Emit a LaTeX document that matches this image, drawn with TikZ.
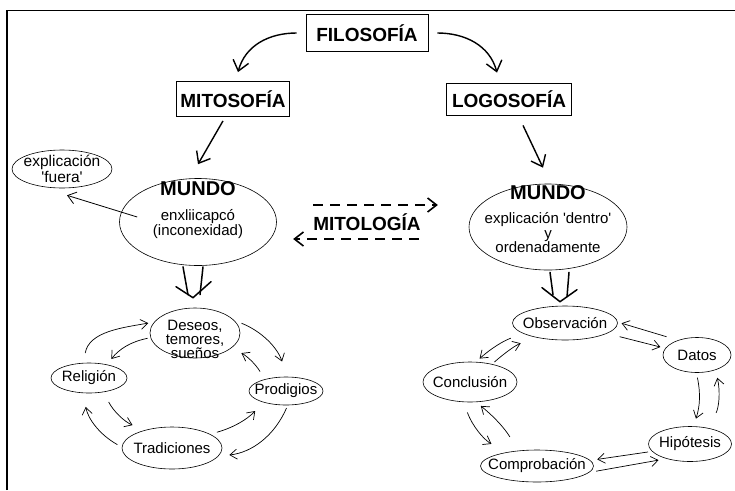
\documentclass[tikz,border=0pt]{standalone}
\usepackage{fontspec}
\setmainfont{Liberation Sans}
\usetikzlibrary{arrows.meta,shapes.geometric,positioning}

\tikzset{
  titlebox/.style={draw, line width=0.8pt, font=\fontsize{19}{22}\selectfont\bfseries,
    inner xsep=4pt, inner ysep=0pt, minimum height=35pt},
  oval/.style={draw, ellipse, line width=0.6pt, inner sep=0pt},
  bigfont/.style={font=\fontsize{20}{20}\selectfont\bfseries},
  mainarrow/.style={line width=1.4pt, -{Straight Barb[length=10pt,width=16pt]}},
  thinarrow/.style={line width=0.7pt, -{Straight Barb[length=7pt,width=10pt]}},
  dasharrow/.style={line width=1.6pt, dash pattern=on 10pt off 7pt,
    -{Straight Barb[length=9pt,width=14pt]}},
  dblline/.style={line width=1.5pt, line cap=round, line join=round}
}

\begin{document}
\begin{tikzpicture}[x=1pt,y=-1pt,
  every label/.style={font=\fontsize{15}{14.5}\selectfont, align=center, inner sep=0pt}]
\useasboundingbox (0,0) rectangle (735,490);
\draw[line width=1.2pt] (7,490) -- (7,10.5) -- (735,10.5);

% boxes
\node[titlebox, minimum width=122pt, minimum height=37pt] (fil) at (367,33) {FILOSOFÍA};
\node[titlebox, minimum width=112pt] (mito) at (233,99) {MITOSOFÍA};
\node[titlebox, minimum width=125pt, minimum height=32pt] (logo) at (509,99) {LOGOSOFÍA};

% the two worlds
\node[oval, minimum width=157pt, minimum height=87pt,
  label={[yshift=33pt,bigfont]center:MUNDO},
  label={[yshift=-2pt]center:enxliicapcó\\(inconexidad)}] (mundoL) at (198,222) {};
\node[oval, minimum width=158pt, minimum height=86pt,
  label={[yshift=34pt,bigfont]center:MUNDO},
  label={[yshift=-6pt]center:explicación \textquotesingle dentro\textquotesingle\\y\\ordenadamente}] (mundoR) at (548,227) {};
\node[oval, minimum width=100pt, minimum height=38pt,
  label={[font=\fontsize{15.5}{14}\selectfont]center:explicación\\\textquotesingle fuera\textquotesingle}] (fuera) at (62,169) {};
\node[font=\fontsize{19}{19}\selectfont\bfseries, inner sep=0pt] (mitol) at (367,222) {MITOLOGÍA};

% left cycle
\node[oval, minimum width=90pt, minimum height=50pt,
  label={[yshift=-6pt,font=\fontsize{15}{14}\selectfont]center:Deseos{,}\\temores{,}\\sueños}] (deseos) at (195,333) {};
\node[oval, minimum width=76pt, minimum height=30pt, label=center:Religión] (religion) at (89,378) {};
\node[oval, minimum width=74pt, minimum height=28pt, label=center:Prodigios] (prodigios) at (286,391) {};
\node[oval, minimum width=100pt, minimum height=42pt, label=center:Tradiciones] (tradiciones) at (172,448) {};

% right cycle
\node[oval, minimum width=105pt, minimum height=34pt, label=center:Observación] (observacion) at (565,323) {};
\node[oval, minimum width=68pt, minimum height=35pt, label=center:Datos] (datos) at (697,355) {};
\node[oval, minimum width=94pt, minimum height=40pt, label=center:Conclusión] (conclusion) at (470,382) {};
\node[oval, minimum width=83pt, minimum height=35pt, label=center:Hipótesis] (hipotesis) at (690,444) {};
\node[oval, minimum width=113pt, minimum height=32pt, label=center:Comprobación] (comprobacion) at (537,466) {};

% main arrows
\draw[mainarrow] ([xshift=-9pt]fil.west) to[out=180,in=75] ([xshift=5pt,yshift=9pt]mito.north);
\draw[mainarrow] ([xshift=9pt]fil.east) to[out=0,in=105] ([xshift=-12pt,yshift=10pt]logo.north);
\draw[mainarrow] ([xshift=-10pt,yshift=-4pt]mito.south) -- ([yshift=14pt]mundoL.north);
\draw[mainarrow] ([xshift=14pt,yshift=-10pt]logo.south) -- ([xshift=-5pt,yshift=16pt]mundoR.north);
\draw[line width=0.8pt, -{Straight Barb[length=8pt,width=12pt]}] ([xshift=18pt,yshift=5pt]mundoL.west) -- ([xshift=5pt,yshift=-7pt]fuera.south);

% mitologia
\draw[dasharrow] ([yshift=17pt]mitol.west) -- ([xshift=17pt,yshift=17pt]mitol.east);
\draw[dasharrow] ([xshift=-2pt,yshift=-17pt]mitol.east) -- ([xshift=-20pt,yshift=-17pt]mitol.west);

% double arrows
\draw[dblline] ([xshift=-15pt,yshift=-1pt]mundoL.south) -- ([xshift=-7pt,yshift=13pt]deseos.north);
\draw[dblline] ([xshift=5pt,yshift=-1pt]mundoL.south) -- ([xshift=5pt,yshift=13pt]deseos.north);
\draw[dblline] ([xshift=-19pt,yshift=21pt]deseos.north) -- ([xshift=-2pt,yshift=10pt]deseos.north) -- ([xshift=16pt,yshift=26pt]deseos.north);
\draw[dblline] ([xshift=2pt,yshift=-2pt]mundoR.south) -- ([xshift=-12pt,yshift=11pt]observacion.north);
\draw[dblline] ([xshift=21pt,yshift=-2pt]mundoR.south) -- ([xshift=2pt,yshift=9pt]observacion.north);
\draw[dblline] ([xshift=-23pt,yshift=18pt]observacion.north) -- ([xshift=-5pt,yshift=4pt]observacion.north) -- ([xshift=12pt,yshift=16pt]observacion.north);

% left cycle arrows
\draw[thinarrow, shorten <=10pt, shorten >=6pt] (religion.110) to[out=80,in=190] (deseos.165);
\draw[thinarrow, shorten <=3pt, shorten >=7pt] (deseos.186) to[bend right=20] (religion.37);
\draw[thinarrow, shorten <=8pt, shorten >=16pt] (deseos.18) to[bend left=25] (prodigios.86);
\draw[thinarrow, shorten <=9pt, shorten >=11pt] (prodigios.151) to[bend right=15] (deseos.-22);
\draw[thinarrow, shorten <=11pt, shorten >=13pt] (religion.-44) to[bend right=20] (tradiciones.147);
\draw[thinarrow, shorten <=5pt, shorten >=14pt] (tradiciones.179) to[bend left=25] (religion.249);
\draw[thinarrow, shorten <=7pt, shorten >=12pt] (tradiciones.20) to[bend right=15] (prodigios.207);
\draw[thinarrow, shorten <=3pt, shorten >=11pt] (prodigios.-83) to[bend left=30] (tradiciones.-10);

% right cycle arrows
\draw[thinarrow, shorten <=12pt, shorten >=4pt] (datos.142) -- (observacion.1);
\draw[thinarrow, shorten <=13pt, shorten >=5pt] (observacion.-14) -- (datos.168);
\draw[thinarrow, shorten <=5pt, shorten >=8pt] (datos.268) to[bend left=15] (hipotesis.79);
\draw[thinarrow, shorten <=17pt, shorten >=8pt] (hipotesis.41) to[bend right=20] (datos.-39);
\draw[thinarrow, shorten <=4pt, shorten >=7pt] (hipotesis.191) -- (comprobacion.6);
\draw[thinarrow, shorten <=7pt, shorten >=8pt] (comprobacion.-7) -- (hipotesis.212);
\draw[thinarrow, shorten <=11pt, shorten >=17pt] (conclusion.252) to[bend right=20] (comprobacion.156);
\draw[thinarrow, shorten <=16pt, shorten >=6pt] (comprobacion.141) to[bend right=10] (conclusion.287);
\draw[thinarrow, shorten <=13pt, shorten >=5pt] (observacion.194) to[bend right=10] (conclusion.74);
\draw[thinarrow, shorten <=3pt, shorten >=16pt] (conclusion.39) to[bend left=10] (observacion.206);
\end{tikzpicture}
\end{document}
